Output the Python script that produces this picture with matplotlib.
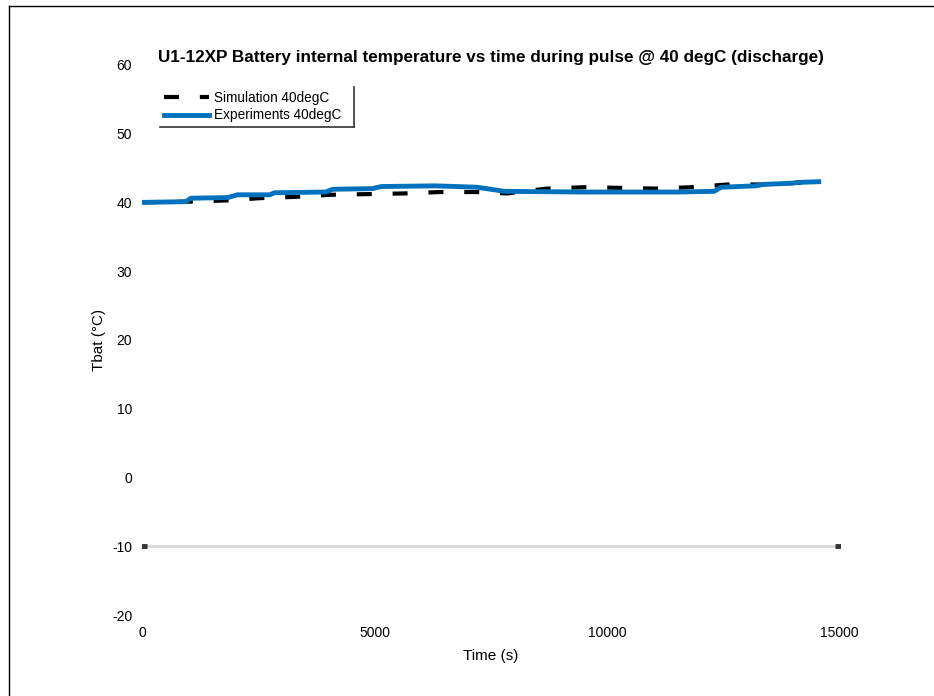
import matplotlib
matplotlib.use('Agg')
import matplotlib.pyplot as plt
from matplotlib.lines import Line2D

plt.rcParams['font.family'] = ['Liberation Sans', 'DejaVu Sans']
plt.rcParams['axes.unicode_minus'] = False

# 仿真曲线 (Simulation 40degC)
sim_time = [0, 1000, 1900, 2500, 3300, 4050, 4850, 5650, 6400, 7200, 7850,
            8700, 9500, 10300, 11050, 11800, 12600, 13400, 14250, 14600]
sim_temp = [40.0, 40.1, 40.3, 40.6, 40.8, 41.1, 41.2, 41.3, 41.5, 41.5, 41.3,
            42.0, 42.2, 42.1, 42.0, 42.2, 42.6, 42.6, 42.9, 43.0]

# 实验曲线 (Experiments 40degC)
exp_time = [0, 950, 1050, 1850, 2050, 2750, 2850, 3950, 4100, 4950, 5150, 6300,
            7200, 7800, 9500, 11500, 12300, 12450, 13200, 13350, 14000, 14100, 14550]
exp_temp = [40.0, 40.1, 40.6, 40.7, 41.1, 41.1, 41.4, 41.5, 41.9, 42.0, 42.3, 42.4,
            42.2, 41.6, 41.5, 41.5, 41.6, 42.2, 42.4, 42.6, 42.8, 42.9, 43.0]

# 下限线
limit_time = [0, 15000]
limit_temp = [-10, -10]

x_ticks = [0, 5000, 10000, 15000]
y_ticks = [-20, -10, 0, 10, 20, 30, 40, 50, 60]

fig = plt.figure(figsize=(9.34, 6.96), dpi=100)
ax = fig.add_axes([0.152, 0.116, 0.747, 0.791])

ax.plot(limit_time, limit_temp, color='#d8d8d8', lw=2, marker='_', ms=7,
        mec='#333333', mew=3.5)
ax.plot(sim_time, sim_temp, color='black', lw=3, dashes=[3.6, 5],
        label='Simulation 40degC')
ax.plot(exp_time, exp_temp, color='#0072BD', lw=3.5,
        label='Experiments 40degC')

ax.set_xlim(0, 15000)
ax.set_ylim(-20, 60)
ax.set_xticks(x_ticks)
ax.set_yticks(y_ticks)
for s in ax.spines.values():
    s.set_visible(False)
ax.tick_params(length=0, labelsize=10)
ax.tick_params(axis='y', pad=7)
ax.tick_params(axis='x', pad=8)

ax.set_title('U1-12XP Battery internal temperature vs time during pulse @ 40 degC (discharge)',
             fontsize=12.3, fontweight='bold', pad=2)
ax.set_xlabel('Time (s)', fontsize=11, labelpad=6)
ax.set_ylabel('Tbat (°C)', fontsize=11, labelpad=4)

leg = ax.legend(loc='upper left', bbox_to_anchor=(0.016, 0.972), fontsize=9.8,
                handlelength=3.3, handletextpad=0.4, borderpad=0.3,
                labelspacing=0.25, fancybox=False, framealpha=1)
leg.get_frame().set_edgecolor('none')

# 图例只画右边和下边的框线
fig.canvas.draw()
bb = leg.get_window_extent().transformed(fig.transFigure.inverted())
x1 = bb.x1 + 8 / 934
fig.add_artist(Line2D([bb.x0, x1], [bb.y0, bb.y0], color='#333333', lw=1.2))
fig.add_artist(Line2D([x1, x1], [bb.y0, bb.y1], color='#333333', lw=1.2))

# 外框 (左、上)
fig.add_artist(Line2D([9 / 934, 9 / 934], [0, 1 - 6 / 696], color='black', lw=1))
fig.add_artist(Line2D([9 / 934, 1], [1 - 6 / 696, 1 - 6 / 696], color='black', lw=1))

fig.savefig('out.png', dpi=100)
